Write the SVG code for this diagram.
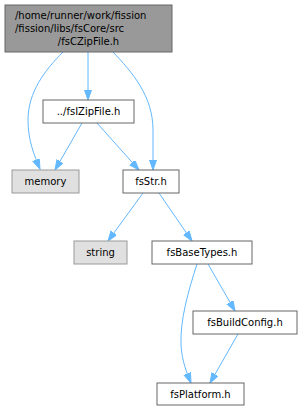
<svg xmlns="http://www.w3.org/2000/svg" width="303" height="411" viewBox="0 0 303 411">
<style>
.box{fill:#ffffff;stroke:#666666;stroke-width:1}
.top{fill:#999999;stroke:#666666;stroke-width:1}
.ext{fill:#e0e0e0;stroke:#999999;stroke-width:1}
text{font-family:"DejaVu Sans","Liberation Sans",sans-serif;font-size:10px;fill:#000000}
.m{text-anchor:middle}
.e{fill:none;stroke:#63b8ff;stroke-width:1}
</style>
<defs>
<marker id="ah" markerUnits="userSpaceOnUse" markerWidth="11" markerHeight="8" refX="10" refY="3.5" orient="auto">
<path d="M0,0 L10,3.5 L0,7 Z" fill="#63b8ff" stroke="#63b8ff" stroke-width="1"/>
</marker>
</defs>
<g id="connectors">
<path class="e" marker-end="url(#ah)" d="M63,52 C45,70 28,92 28,120 C28,140 34,155 40,169"/>
<path class="e" marker-end="url(#ah)" d="M88,52 L88,100"/>
<path class="e" marker-end="url(#ah)" d="M113,52 C132,72 153,96 153,130 L153,170"/>
<path class="e" marker-end="url(#ah)" d="M82,123 L55,170"/>
<path class="e" marker-end="url(#ah)" d="M97,123 L139,170"/>
<path class="e" marker-end="url(#ah)" d="M143,193 L108,241"/>
<path class="e" marker-end="url(#ah)" d="M159,193 L192,241"/>
<path class="e" marker-end="url(#ah)" d="M197,264 C188,292 180,320 181,345 C182,362 187,373 191,383"/>
<path class="e" marker-end="url(#ah)" d="M208,264 L235,311"/>
<path class="e" marker-end="url(#ah)" d="M238,334 L210,383"/>
</g>
<g id="node1">
<rect class="top" x="5" y="5" width="167" height="47"/>
<text x="15" y="19">/home/runner/work/fission</text>
<text x="15" y="32">/fission/libs/fsCore/src</text>
<text class="m" x="88.5" y="45">/fsCZipFile.h</text>
</g>
<g id="node2">
<rect class="box" x="43" y="100" width="91" height="23"/>
<text class="m" x="88.5" y="115">../fsIZipFile.h</text>
</g>
<g id="node3">
<rect class="ext" x="12" y="170" width="67" height="23"/>
<text class="m" x="45.5" y="185">memory</text>
</g>
<g id="node4">
<rect class="box" x="123" y="170" width="56" height="23"/>
<text class="m" x="151" y="185">fsStr.h</text>
</g>
<g id="node5">
<rect class="ext" x="74" y="241" width="53" height="23"/>
<text class="m" x="100.5" y="256">string</text>
</g>
<g id="node6">
<rect class="box" x="152" y="241" width="100" height="23"/>
<text class="m" x="202" y="256">fsBaseTypes.h</text>
</g>
<g id="node7">
<rect class="box" x="193" y="311" width="104" height="23"/>
<text class="m" x="245" y="326">fsBuildConfig.h</text>
</g>
<g id="node8">
<rect class="box" x="157" y="383" width="87" height="22"/>
<text class="m" x="200.5" y="398">fsPlatform.h</text>
</g>
</svg>
